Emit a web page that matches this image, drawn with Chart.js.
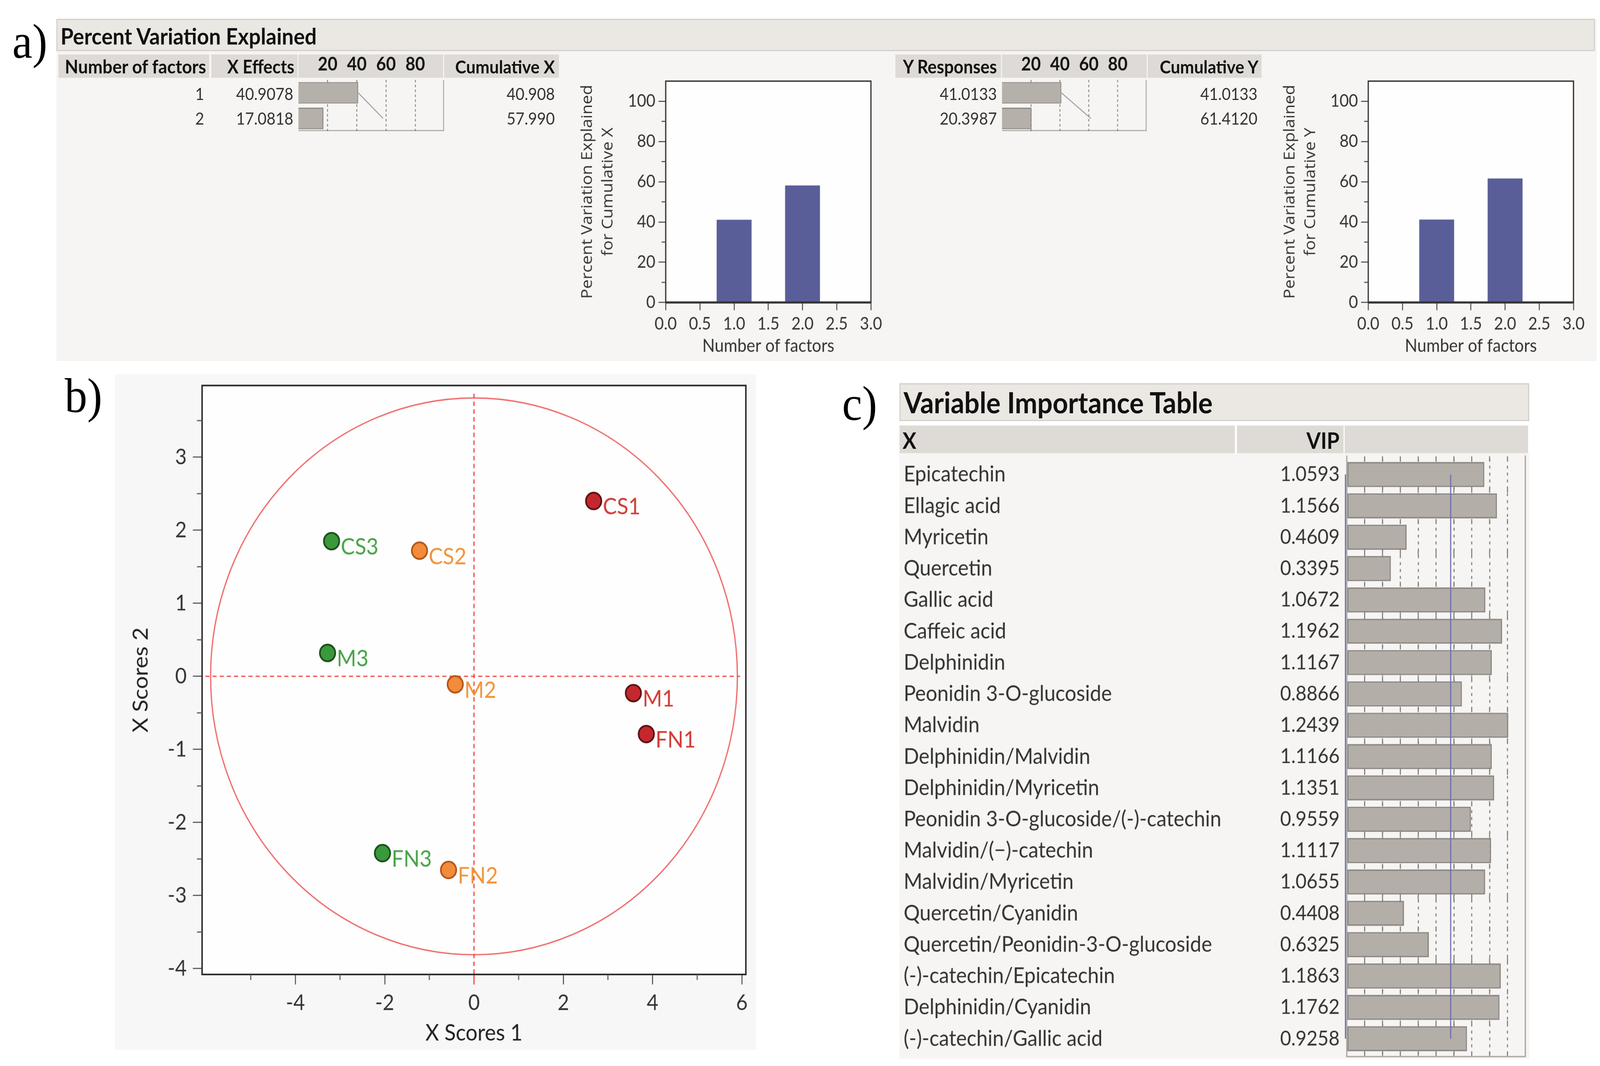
<!DOCTYPE html>
<html>
<head>
<meta charset="utf-8">
<script src="https://cdn.jsdelivr.net/npm/chart.js@4.4.1/dist/chart.umd.min.js"></script>
<style>
  html, body { margin: 0; padding: 0; background: #fff; }
  body { width: 100vw; height: 100vh; overflow: hidden; font-family: Lato, sans-serif; }
  #page { position: absolute; left: 0; top: 0; width: 1560px; height: 960px; transform-origin: 0 0; }
  canvas { position: absolute; }
</style>
</head>
<body>
<div id="page"></div>
<script>
// the figure is laid out in 1560 x 959.5 units and stretched to fill the window
const FX = window.innerWidth / 1560;
const FY = window.innerHeight / 959.5;
const SCALE = Math.max(FX, FY) * (window.devicePixelRatio || 1);

// a) percent variation explained
const factorNumbers = [1, 2];
const xEffects = [40.9078, 17.0818];
const cumulativeX = [40.908, 57.99];
const yResponses = [41.0133, 20.3987];
const cumulativeY = [41.0133, 61.412];
const effectTicks = [20, 40, 60, 80];
const factorTicks = [0, 0.5, 1, 1.5, 2, 2.5, 3];
const percentTicks = [0, 20, 40, 60, 80, 100];
const percentMinor = [10, 30, 50, 70, 90];

// b) score plot
const sampleLabels = ["CS1", "CS2", "CS3", "M1", "M2", "M3", "FN1", "FN2", "FN3"];
const xScores1 = [2.68, -1.22, -3.19, 3.57, -0.42, -3.28, 3.86, -0.57, -2.05];
const xScores2 = [2.40, 1.72, 1.85, -0.23, -0.11, 0.32, -0.79, -2.65, -2.42];
const scoreTicksX = [-4, -2, 0, 2, 4, 6];
const scoreMinorX = [-5, -3, -1, 1, 3, 5];
const scoreTicksY = [-4, -3, -2, -1, 0, 1, 2, 3];
const scoreMinorY = [-3.5, -2.5, -1.5, -0.5, 0.5, 1.5, 2.5, 3.5];
const ellipseRx = 5.9;
const ellipseRy = 3.81;

// c) variable importance
const vipNames = [
  "Epicatechin",
  "Ellagic acid",
  "Myricetin",
  "Quercetin",
  "Gallic acid",
  "Caffeic acid",
  "Delphinidin",
  "Peonidin 3-O-glucoside",
  "Malvidin",
  "Delphinidin/Malvidin",
  "Delphinidin/Myricetin",
  "Peonidin 3-O-glucoside/(-)-catechin",
  "Malvidin/(\u2212)-catechin",
  "Malvidin/Myricetin",
  "Quercetin/Cyanidin",
  "Quercetin/Peonidin-3-O-glucoside",
  "(-)-catechin/Epicatechin",
  "Delphinidin/Cyanidin",
  "(-)-catechin/Gallic acid",
];
const vipValues = [1.0593, 1.1566, 0.4609, 0.3395, 1.0672, 1.1962, 1.1167, 0.8866, 1.2439, 1.1166, 1.1351, 0.9559, 1.1117, 1.0655, 0.4408, 0.6325, 1.1863, 1.1762, 0.9258];
const vipThreshold = 0.8;
const vipTicks = [0, 0.1375, 0.275, 0.4125, 0.55, 0.6875, 0.825, 0.9625, 1.1, 1.2375, 1.375];

const groupFill = { 1: "#c4282e", 2: "#f28c3b", 3: "#3a993a" };
const groupEdge = { 1: "#5c1111", 2: "#b0541a", 3: "#1c4a1c" };
const groupText = { 1: "#d23b35", 2: "#f39339", 3: "#47a347" };

Chart.defaults.font.family = "Lato, sans-serif";
Chart.defaults.color = "#333";

const page = document.getElementById("page");
page.style.transform = `scale(${FX}, ${FY})`;

function addBox(x, y, w, h, css) {
  const d = document.createElement("div");
  d.style.cssText = `position:absolute;left:${x}px;top:${y}px;width:${w}px;height:${h}px;box-sizing:border-box;${css || ""}`;
  page.appendChild(d);
  return d;
}

function addText(text, x, y, opt = {}) {
  const d = document.createElement("div");
  d.textContent = text;
  d.style.cssText = `position:absolute;top:${y - 15}px;height:30px;line-height:30px;white-space:nowrap;` +
    `font-size:${opt.size || 15}px;font-weight:${opt.weight || 400};color:${opt.color || "#333"};` +
    `font-family:${opt.family || "Lato, sans-serif"};`;
  if (opt.align === "right") {
    d.style.left = x - 600 + "px"; d.style.width = "600px"; d.style.textAlign = "right";
  } else {
    d.style.left = x + "px";
  }
  page.appendChild(d);
}

function addCanvas(id, x, y, w, h) {
  const c = document.createElement("canvas");
  c.id = id; c.width = w; c.height = h;
  c.style.left = x + "px"; c.style.top = y + "px";
  page.appendChild(c);
  return c;
}

// keep the layout padding in charge of where the plot area sits
function noEdgePadding(s) {
  s.paddingTop = 0; s.paddingBottom = 0; s.paddingLeft = 0; s.paddingRight = 0;
}

// plugins
const framePlugin = {
  id: "frame",
  beforeDraw(chart, args, o) {
    const { ctx, chartArea: a } = chart;
    ctx.save();
    ctx.fillStyle = o.fill || "#fff";
    ctx.fillRect(a.left, a.top, a.width, a.height);
    ctx.restore();
  },
  afterDraw(chart, args, o) {
    const { ctx, chartArea: a } = chart;
    ctx.save();
    ctx.strokeStyle = o.color || "#333";
    ctx.lineWidth = o.width || 1.2;
    ctx.strokeRect(a.left, a.top, a.width, a.height);
    if (o.bottomWidth) {
      ctx.lineWidth = o.bottomWidth;
      ctx.beginPath(); ctx.moveTo(a.left, a.bottom); ctx.lineTo(a.right, a.bottom); ctx.stroke();
    }
    ctx.restore();
  },
};

const minorTickPlugin = {
  id: "minorTicks",
  afterDraw(chart, args, o) {
    const { ctx, chartArea: a, scales } = chart;
    ctx.save();
    ctx.strokeStyle = o.color || "#555";
    ctx.lineWidth = 1;
    (o.x || []).forEach((v) => {
      const px = scales.x.getPixelForValue(v);
      ctx.beginPath(); ctx.moveTo(px, a.bottom); ctx.lineTo(px, a.bottom + o.len); ctx.stroke();
    });
    (o.y || []).forEach((v) => {
      const py = scales.y.getPixelForValue(v);
      ctx.beginPath(); ctx.moveTo(a.left, py); ctx.lineTo(a.left - o.len, py); ctx.stroke();
    });
    ctx.restore();
  },
};

// a) small effect bars inside the tables
function effectBars(canvas, effects, cumulative) {
  new Chart(canvas, {
    type: "bar",
    data: {
      labels: factorNumbers.map(String),
      datasets: [
        {
          data: effects,
          backgroundColor: "#b5b0aa",
          borderColor: "#8d8883",
          borderWidth: 1,
          categoryPercentage: 0.84,
          barPercentage: 1,
          order: 2,
        },
        {
          type: "line",
          data: cumulative,
          borderColor: "#919191",
          borderWidth: 0.8,
          pointRadius: 0,
          order: 1,
        },
      ],
    },
    options: {
      indexAxis: "y",
      responsive: false,
      animation: false,
      devicePixelRatio: SCALE,
      layout: { padding: 0 },
      plugins: { legend: { display: false }, tooltip: { enabled: false } },
      scales: {
        x: {
          type: "linear",
          position: "top",
          min: 0,
          max: 100,
          afterBuildTicks: (s) => { s.ticks = effectTicks.map((v) => ({ value: v })); },
          afterFit: (s) => { s.height = 23; noEdgePadding(s); },
          grid: { color: "#7a7a7a", lineWidth: 0.8, drawTicks: false },
          border: { display: false, dash: [2.2, 2.2] },
          ticks: { color: "#111", font: { size: 16.5, weight: "bold" }, padding: 4, maxRotation: 0 },
        },
        y: { display: false },
      },
    },
  });
}

// a) cumulative bar charts
function cumulativeBars(canvas, cumulative, titleLine) {
  new Chart(canvas, {
    type: "bar",
    data: {
      datasets: [
        {
          data: factorNumbers.map((f, i) => ({ x: f, y: cumulative[i] })),
          backgroundColor: "#5a5e98",
          categoryPercentage: 1,
          barPercentage: 1,
        },
      ],
    },
    options: {
      responsive: false,
      animation: false,
      devicePixelRatio: SCALE,
      layout: { padding: { top: 8, right: 11 } },
      plugins: {
        legend: { display: false },
        tooltip: { enabled: false },
        frame: { fill: "#fefefe", color: "#333", width: 1.2, bottomWidth: 2 },
        minorTicks: { y: percentMinor, len: 4 },
      },
      scales: {
        x: {
          type: "linear",
          min: 0,
          max: 3,
          offset: false,
          afterBuildTicks: (s) => { s.ticks = factorTicks.map((v) => ({ value: v })); },
          afterFit: (s) => { s.height = 51; noEdgePadding(s); },
          grid: { offset: false, drawOnChartArea: false, tickLength: 7, tickColor: "#555" },
          border: { display: false },
          ticks: { callback: (v) => v.toFixed(1), color: "#333", font: { size: 15.5 }, padding: 3, maxRotation: 0 },
          title: { display: true, text: "Number of factors", color: "#333", font: { size: 16, lineHeight: 1.2 }, padding: { top: 0, bottom: 2 } },
        },
        y: {
          min: 0,
          max: 110,
          afterBuildTicks: (s) => { s.ticks = percentTicks.map((v) => ({ value: v })); },
          afterFit: (s) => { s.width = 94; noEdgePadding(s); },
          grid: { drawOnChartArea: false, tickLength: 7, tickColor: "#555" },
          border: { display: false },
          ticks: { color: "#333", font: { size: 15.5 }, padding: 3 },
          title: {
            display: true,
            text: ["Percent Variation Explained", titleLine],
            color: "#333",
            font: { size: 15, lineHeight: 1.33, family: "'Open Sans', sans-serif" },
            padding: { top: 8, bottom: 0 },
          },
        },
      },
    },
    plugins: [framePlugin, minorTickPlugin],
  });
}

// ---- panel a layout ----
addText("a)", 12, 38, { size: 44, family: "'Liberation Serif', serif", color: "#000" });
addBox(55, 17, 1502, 308, "background:#f6f5f3;");
addBox(55, 17, 1500, 29, "background:#ebe7e3;border:1px solid #d2cec9;");
addText("Percent Variation Explained", 59, 32, { size: 20.4, weight: 700, color: "#111" });

const headerCss = "background:#dedad6;";
addBox(57, 49, 147, 21, headerCss);
addBox(206, 49, 84, 21, headerCss);
addBox(291, 49, 141, 21, headerCss);
addBox(433, 49, 112, 21, headerCss);
addText("Number of factors", 201, 60, { size: 17, weight: 700, color: "#111", align: "right" });
addText("X Effects", 287, 60, { size: 16.5, weight: 700, color: "#111", align: "right" });
addText("Cumulative X", 541, 60, { size: 16.3, weight: 700, color: "#111", align: "right" });
addBox(291, 72, 142, 46, "border-right:1px solid #b0aca8;border-bottom:1.5px solid #b0aca8;");

addBox(873, 49, 103, 21, headerCss);
addBox(977, 49, 141, 21, headerCss);
addBox(1119, 49, 111, 21, headerCss);
addText("Y Responses", 972, 60, { size: 16.5, weight: 700, color: "#111", align: "right" });
addText("Cumulative Y", 1227, 60, { size: 16.3, weight: 700, color: "#111", align: "right" });
addBox(977, 72, 141, 46, "border-right:1px solid #b0aca8;border-bottom:1.5px solid #b0aca8;");

const rowY = [83.5, 106];
factorNumbers.forEach((f, i) => {
  addText(String(f), 199, rowY[i], { align: "right" });
  addText(xEffects[i].toFixed(4), 286, rowY[i], { align: "right" });
  addText(cumulativeX[i].toFixed(3), 541, rowY[i], { align: "right" });
  addText(yResponses[i].toFixed(4), 972, rowY[i], { align: "right" });
  addText(cumulativeY[i].toFixed(4), 1226, rowY[i], { align: "right" });
});

effectBars(addCanvas("effX", 291, 49, 142, 69), xEffects, cumulativeX);
effectBars(addCanvas("effY", 977, 49, 141, 69), yResponses, cumulativeY);
cumulativeBars(addCanvas("cumX", 555, 65, 305, 258), cumulativeX, "for Cumulative X");
cumulativeBars(addCanvas("cumY", 1240, 65, 305, 258), cumulativeY, "for Cumulative Y");

// ---- panel b ----
addText("b)", 63, 357, { size: 44, family: "'Liberation Serif', serif", color: "#000" });
addBox(112, 337, 625, 608, "background:#f7f7f7;");

const ellipsePlugin = {
  id: "ellipse",
  beforeDatasetsDraw(chart) {
    const { ctx, chartArea: a, scales: { x, y } } = chart;
    const cx = x.getPixelForValue(0);
    const cy = y.getPixelForValue(0);
    const rx = Math.abs(x.getPixelForValue(ellipseRx) - cx);
    const ry = Math.abs(y.getPixelForValue(ellipseRy) - cy);
    ctx.save();
    ctx.strokeStyle = "#f06a6a";
    ctx.lineWidth = 1.2;
    ctx.beginPath();
    ctx.ellipse(cx, cy, rx, ry, 0, 0, Math.PI * 2);
    ctx.stroke();
    ctx.strokeStyle = "#ee4545";
    ctx.lineWidth = 1.1;
    ctx.setLineDash([4, 3]);
    ctx.beginPath();
    ctx.moveTo(cx - rx * 1.02, cy); ctx.lineTo(cx + rx * 1.01, cy);
    ctx.moveTo(cx, cy - ry * 1.015); ctx.lineTo(cx, a.bottom);
    ctx.stroke();
    ctx.setLineDash([]);
    ctx.beginPath(); ctx.moveTo(cx, a.bottom); ctx.lineTo(cx, a.bottom + 9); ctx.stroke();
    ctx.restore();
  },
};

const pointLabelPlugin = {
  id: "pointLabels",
  afterDatasetsDraw(chart) {
    const { ctx } = chart;
    const meta = chart.getDatasetMeta(0);
    ctx.save();
    ctx.font = "20.5px Lato, sans-serif";
    ctx.textAlign = "left";
    ctx.textBaseline = "middle";
    meta.data.forEach((pt, i) => {
      ctx.fillStyle = groupText[sampleLabels[i].slice(-1)];
      ctx.fillText(sampleLabels[i], pt.x + 9, pt.y + 5.5);
    });
    ctx.restore();
  },
};

new Chart(addCanvas("scores", 112, 337, 625, 608), {
  type: "scatter",
  data: {
    datasets: [
      {
        data: xScores1.map((v, i) => ({ x: v, y: xScores2[i] })),
        pointRadius: 7.5,
        pointBorderWidth: 1.6,
        pointBackgroundColor: sampleLabels.map((l) => groupFill[l.slice(-1)]),
        pointBorderColor: sampleLabels.map((l) => groupEdge[l.slice(-1)]),
      },
    ],
  },
  options: {
    responsive: false,
    animation: false,
    devicePixelRatio: SCALE,
    layout: { padding: { top: 10, right: 10 } },
    plugins: {
      legend: { display: false },
      tooltip: { enabled: false },
      frame: { fill: "#fefefe", color: "#222", width: 1.4 },
      minorTicks: { x: scoreMinorX, y: scoreMinorY, len: 5 },
    },
    scales: {
      x: {
        type: "linear",
        min: -6.09,
        max: 6.09,
        afterBuildTicks: (s) => { s.ticks = scoreTicksX.map((v) => ({ value: v })); },
        afterFit: (s) => { s.height = 68; noEdgePadding(s); },
        grid: { drawOnChartArea: false, tickLength: 9, tickColor: "#555" },
        border: { display: false },
        ticks: { callback: (v) => String(v), color: "#333", font: { size: 19.5 }, padding: 5, maxRotation: 0 },
        title: { display: true, text: "X Scores 1", color: "#222", font: { size: 20.5, lineHeight: 1.2 }, padding: { top: 0, bottom: 3 } },
      },
      y: {
        type: "linear",
        min: -4.08,
        max: 3.98,
        afterBuildTicks: (s) => { s.ticks = scoreTicksY.map((v) => ({ value: v })); },
        afterFit: (s) => { s.width = 85; noEdgePadding(s); },
        grid: { drawOnChartArea: false, tickLength: 9, tickColor: "#555" },
        border: { display: false },
        ticks: { callback: (v) => String(v), color: "#333", font: { size: 19.5 }, padding: 6 },
        title: { display: true, text: "X Scores 2", color: "#222", font: { size: 20.5, lineHeight: 1.2 }, padding: { top: 13, bottom: 0 } },
      },
    },
  },
  plugins: [framePlugin, minorTickPlugin, ellipsePlugin, pointLabelPlugin],
});

// ---- panel c ----
addText("c)", 821, 364, { size: 44, family: "'Liberation Serif', serif", color: "#000" });
addBox(877, 345, 614, 34, "background:#ebe7e3;border:1px solid #d2cec9;");
addText("Variable Importance Table", 881, 362, { size: 26.2, weight: 700, color: "#111" });
addBox(877, 383, 327, 25, headerCss);
addBox(1206, 383, 104, 25, headerCss);
addBox(1311, 383, 179, 25, headerCss);
addText("X", 880, 396, { size: 20, weight: 700, color: "#111" });
addText("VIP", 1306, 396, { size: 20, weight: 700, color: "#111", align: "right" });
addBox(877, 408, 614, 545, "background:#f6f5f3;");

// short tick marks in the gaps between the VIP bars
const vipGapTicks = {
  id: "vipGapTicks",
  beforeDatasetsDraw(chart) {
    const { ctx, scales: { x, y } } = chart;
    const c0 = y.getPixelForValue(0);
    const pitch = y.getPixelForValue(1) - c0;
    ctx.save();
    ctx.strokeStyle = "#7b7874";
    ctx.lineWidth = 1;
    for (let i = 0; i <= vipNames.length; i++) {
      const by = c0 + (i - 0.5) * pitch;
      vipTicks.slice(1, -1).forEach((v) => {
        const px = x.getPixelForValue(v);
        ctx.beginPath(); ctx.moveTo(px, by - 2.3); ctx.lineTo(px, by + 2.3); ctx.stroke();
      });
    }
    ctx.restore();
  },
};

const vipValuePlugin = {
  id: "vipValues",
  afterDraw(chart) {
    const { ctx, chartArea: a, scales: { x, y } } = chart;
    ctx.save();
    ctx.font = "18.5px Lato, sans-serif";
    ctx.fillStyle = "#333";
    ctx.textAlign = "right";
    ctx.textBaseline = "middle";
    vipValues.forEach((v, i) => ctx.fillText(v.toFixed(4), a.left - 7, y.getPixelForValue(i)));
    // frame of the bar column
    ctx.strokeStyle = "#a9a5a1";
    ctx.lineWidth = 1.2;
    ctx.beginPath();
    ctx.moveTo(a.right, a.top - 3); ctx.lineTo(a.right, a.bottom + 2);
    ctx.lineTo(a.left, a.bottom + 2); ctx.lineTo(a.left, a.top - 3);
    ctx.stroke();
    // zero line and threshold line, first to last row
    ctx.strokeStyle = "#6d6dad";
    ctx.lineWidth = 1.1;
    const top = y.getPixelForValue(0);
    const bottom = y.getPixelForValue(vipNames.length - 1);
    [x.getPixelForValue(0) - 1.3, x.getPixelForValue(vipThreshold)].forEach((px) => {
      ctx.beginPath(); ctx.moveTo(px, top); ctx.lineTo(px, bottom); ctx.stroke();
    });
    ctx.restore();
  },
};

new Chart(addCanvas("vip", 877, 408, 613, 545), {
  type: "bar",
  data: {
    labels: vipNames,
    datasets: [
      {
        data: vipValues,
        backgroundColor: "#b3aea8",
        borderColor: "#8a8580",
        borderWidth: 1.3,
        borderSkipped: false,
        categoryPercentage: 0.8,
        barPercentage: 1,
      },
    ],
  },
  options: {
    indexAxis: "y",
    responsive: false,
    animation: false,
    devicePixelRatio: SCALE,
    layout: { padding: { left: 4, top: 5, bottom: 4, right: 3 } },
    plugins: { legend: { display: false }, tooltip: { enabled: false } },
    scales: {
      x: {
        type: "linear",
        min: 0,
        max: 1.375,
        afterBuildTicks: (s) => { s.ticks = vipTicks.map((v) => ({ value: v })); },
        afterFit: (s) => { s.height = 0; noEdgePadding(s); },
        ticks: { display: false },
        grid: {
          drawTicks: false,
          lineWidth: 1,
          color: (c) => (c.index === 0 || c.index === vipTicks.length - 1 ? "rgba(0,0,0,0)" : "#7b7874"),
        },
        border: { display: false, dash: [2.6, 3.6] },
      },
      y: {
        afterFit: (s) => { s.width = 432; noEdgePadding(s); },
        grid: { display: false },
        border: { display: false },
        ticks: { crossAlign: "far", color: "#333", font: { size: 19.7 }, padding: 0 },
      },
    },
  },
  plugins: [vipGapTicks, vipValuePlugin],
});
</script>
</body>
</html>
